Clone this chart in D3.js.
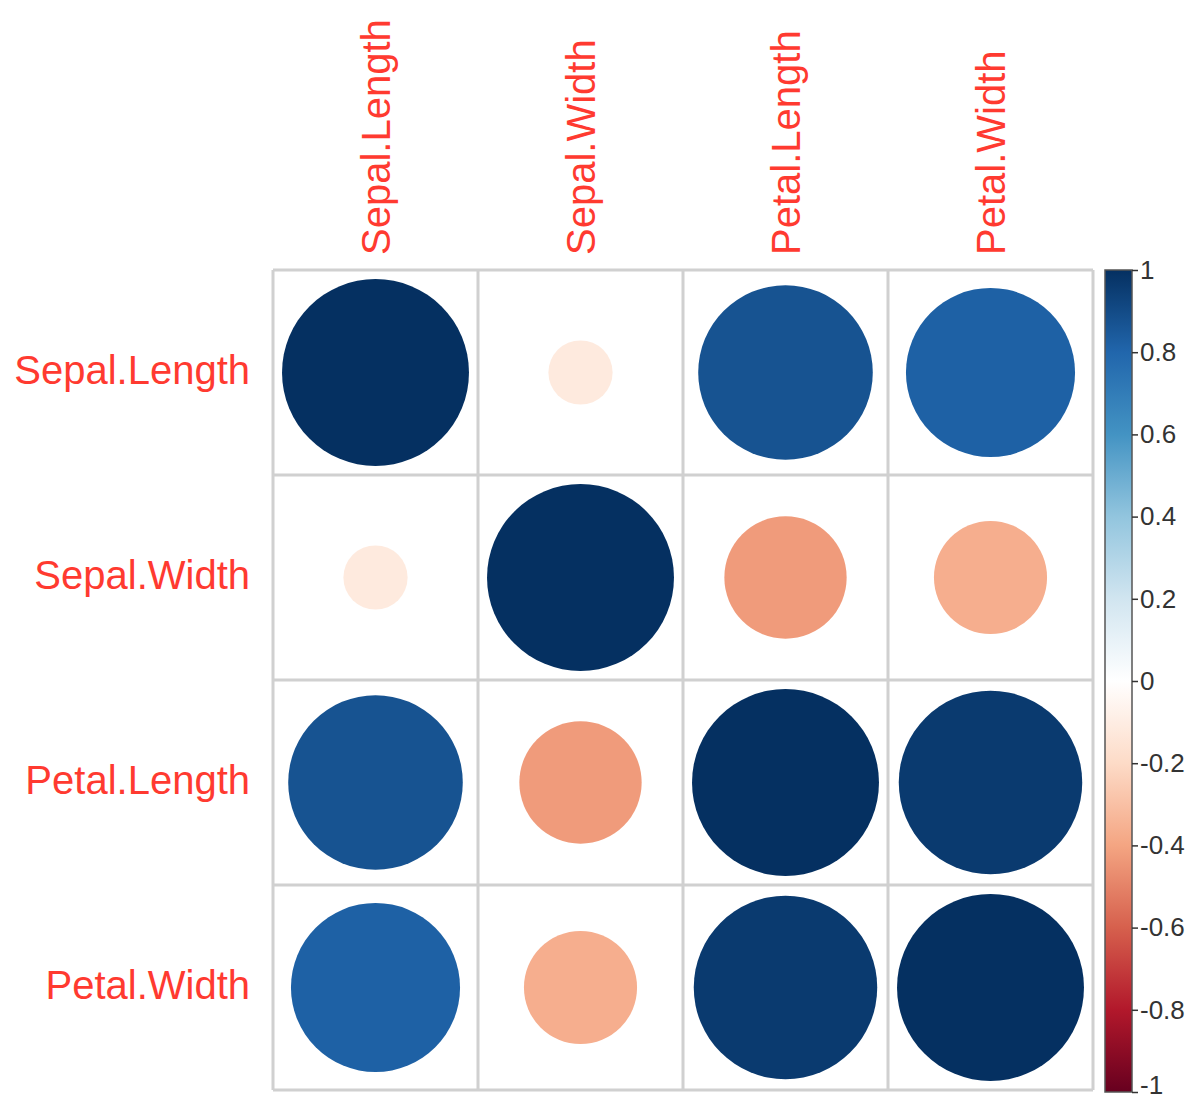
<!DOCTYPE html>
<html>
<head>
<meta charset="utf-8">
<script src="https://cdn.jsdelivr.net/npm/d3@7"></script>
<style>
  html, body { margin: 0; padding: 0; background: #fff; }
  svg { display: block; font-family: "Liberation Sans", Arial, sans-serif; }
</style>
</head>
<body>
<svg id="chart" width="1192" height="1103"></svg>
<script>
// Iris correlation matrix
const variables = ["Sepal.Length", "Sepal.Width", "Petal.Length", "Petal.Width"];
const rowSepalLength = [1.000, -0.118, 0.872, 0.818];
const rowSepalWidth  = [-0.118, 1.000, -0.428, -0.366];
const rowPetalLength = [0.872, -0.428, 1.000, 0.963];
const rowPetalWidth  = [0.818, -0.366, 0.963, 1.000];
const corrRows = [rowSepalLength, rowSepalWidth, rowPetalLength, rowPetalWidth];

// Diverging RdBu palette, from -1 to 1
const palette = ["#67001F", "#B2182B", "#D6604D", "#F4A582", "#FDDBC7", "#FFFFFF",
                 "#D1E5F0", "#92C5DE", "#4393C3", "#2166AC", "#053061"];
const legendTicks = [1, 0.8, 0.6, 0.4, 0.2, 0, -0.2, -0.4, -0.6, -0.8, -1];

const svg = d3.select("#chart");

const gridLeft = 273, gridTop = 270, gridSize = 820;
const x = d3.scaleBand().domain(variables).range([gridLeft, gridLeft + gridSize]);
const y = d3.scaleBand().domain(variables).range([gridTop, gridTop + gridSize]);
const color = d3.scaleLinear()
  .domain(d3.range(palette.length).map(i => -1 + 2 * i / (palette.length - 1)))
  .range(palette)
  .interpolate(d3.interpolateRgb);
const maxR = x.bandwidth() * 0.456;
const radius = v => Math.sqrt(Math.abs(v)) * maxR;

const cells = [];
corrRows.forEach((row, i) => row.forEach((v, j) => cells.push({ r: variables[i], c: variables[j], v })));

// circles
svg.append("g").selectAll("circle").data(cells).join("circle")
  .attr("cx", d => x(d.c) + x.bandwidth() / 2)
  .attr("cy", d => y(d.r) + y.bandwidth() / 2)
  .attr("r", d => radius(d.v))
  .attr("fill", d => color(d.v));

// cell grid
const grid = svg.append("g").attr("stroke", "#d0d0d0").attr("stroke-width", 3);
variables.map(v => x(v)).concat([gridLeft + gridSize]).forEach(p => {
  grid.append("line").attr("x1", p).attr("x2", p).attr("y1", gridTop).attr("y2", gridTop + gridSize);
});
variables.map(v => y(v)).concat([gridTop + gridSize]).forEach(p => {
  grid.append("line").attr("y1", p).attr("y2", p).attr("x1", gridLeft).attr("x2", gridLeft + gridSize);
});

// row labels
svg.append("g").selectAll("text").data(variables).join("text")
  .attr("x", 250)
  .attr("y", d => y(d) + y.bandwidth() / 2 - 3)
  .attr("dy", "0.35em")
  .attr("text-anchor", "end")
  .attr("font-size", 40)
  .attr("fill", "#ff3a30")
  .text(d => d);

// column labels, rotated
svg.append("g").selectAll("text").data(variables).join("text")
  .attr("transform", d => `translate(${x(d) + x.bandwidth() / 2},255) rotate(-90)`)
  .attr("dy", "0.35em")
  .attr("text-anchor", "start")
  .attr("font-size", 40)
  .attr("fill", "#ff3a30")
  .text(d => d);

// colour legend
const barLeft = 1105, barWidth = 27, barTop = 270, barBottom = 1092;
const ly = d3.scaleLinear().domain([-1, 1]).range([barBottom, barTop]);
const grad = svg.append("defs").append("linearGradient")
  .attr("id", "legendGrad").attr("x1", 0).attr("x2", 0).attr("y1", 1).attr("y2", 0);
color.domain().forEach((d, i) => {
  grad.append("stop").attr("offset", (d + 1) / 2).attr("stop-color", palette[i]);
});
svg.append("rect")
  .attr("x", barLeft).attr("y", barTop)
  .attr("width", barWidth).attr("height", barBottom - barTop)
  .attr("fill", "url(#legendGrad)")
  .attr("stroke", "#555").attr("stroke-width", 1.5);

const legendAxis = svg.append("g")
  .attr("transform", `translate(${barLeft + barWidth},0)`)
  .call(d3.axisRight(ly).tickValues(legendTicks).tickSize(6).tickPadding(2)
    .tickFormat(d => String(d)));
legendAxis.select(".domain").remove();
legendAxis.selectAll("line").attr("stroke", "#333").attr("stroke-width", 1.5);
legendAxis.selectAll("text")
  .attr("font-size", 26)
  .attr("font-family", "'Liberation Sans', Arial, sans-serif")
  .attr("fill", "#333");
// keep the bottom label inside the canvas
legendAxis.selectAll(".tick").filter(d => d === -1).select("text").attr("dy", "0.05em");
</script>
</body>
</html>
